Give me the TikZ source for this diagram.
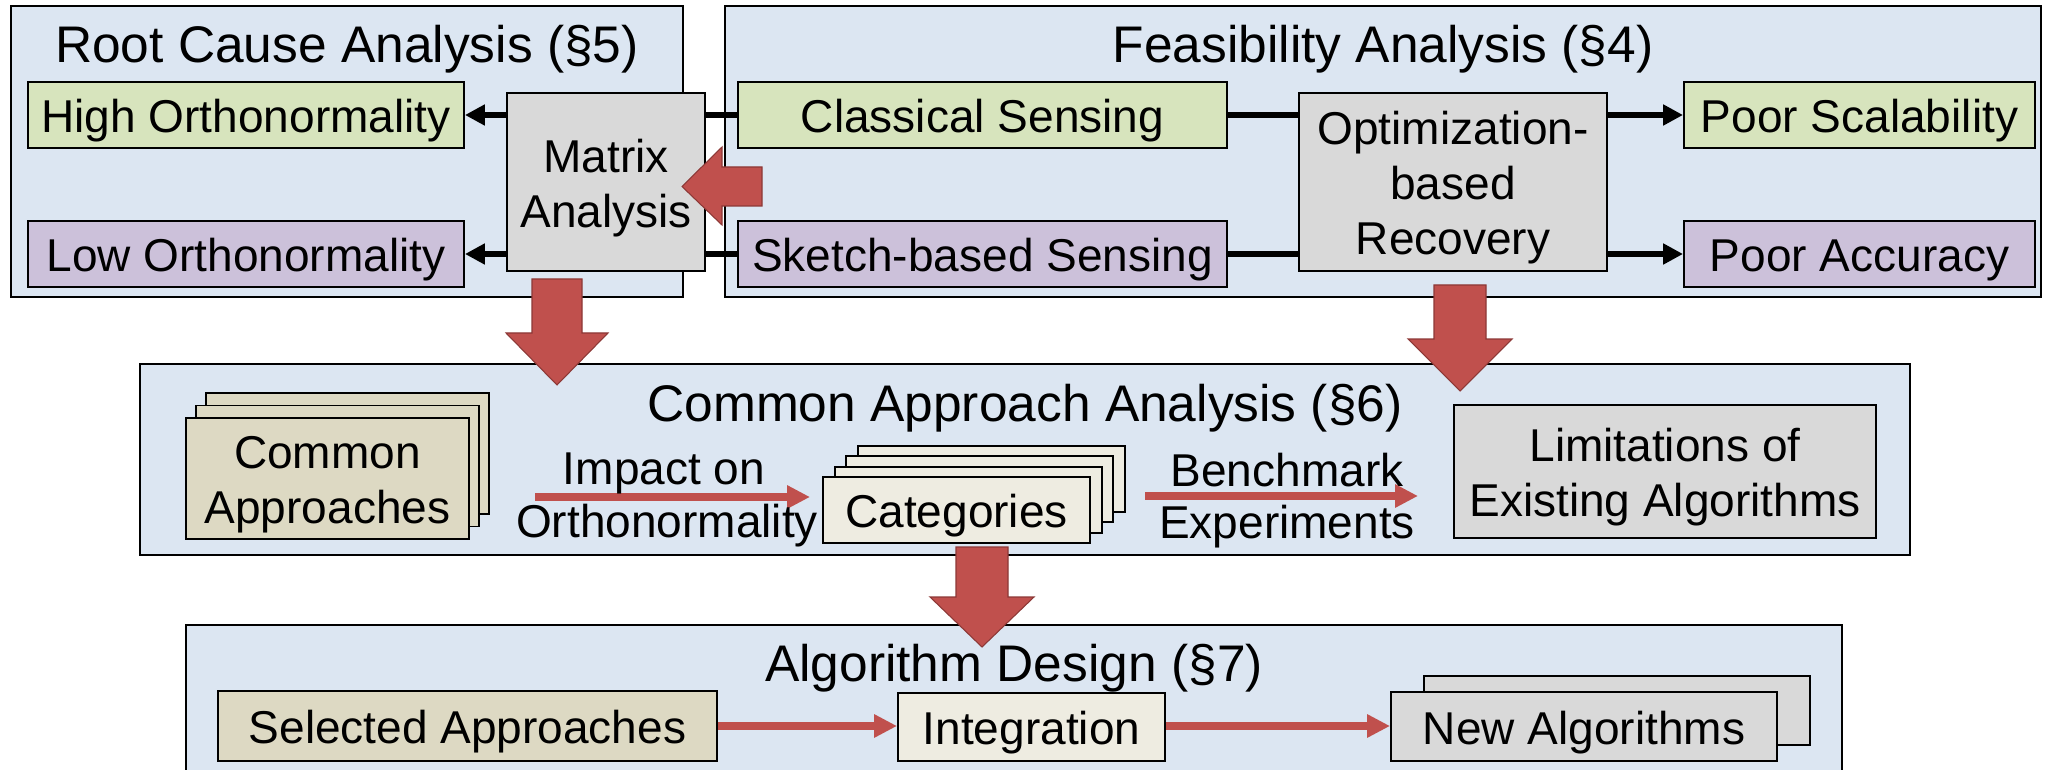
\documentclass[tikz,border=0pt]{standalone}
\usepackage{fontspec}
\setmainfont{Liberation Sans}
\usetikzlibrary{arrows.meta,calc}
\newlength\px
\setlength\px{0.02cm}
\newcommand\lblfont{\fontsize{26.2}{31.3}\selectfont}
\newcommand\ttlfont{\fontsize{29.3}{35}\selectfont}
\definecolor{secblue}{HTML}{DCE6F2}
\definecolor{grn}{HTML}{D7E4BD}
\definecolor{prp}{HTML}{CCC1DA}
\definecolor{gry}{HTML}{D9D9D9}
\definecolor{tan}{HTML}{DDD9C3}
\definecolor{crm}{HTML}{EEECE1}
\definecolor{redf}{HTML}{C0504D}
\definecolor{redd}{HTML}{8C3836}
\begin{document}
\begin{tikzpicture}[x=0.02cm,y=-0.02cm,
  sect/.style={draw=black, line width=1.3pt, fill=secblue, inner sep=0pt},
  box/.style={draw=black, line width=1.1pt, inner sep=0pt},
  txt/.style={inner sep=0pt, align=center, font=\lblfont},
  ttl/.style={anchor=base, font=\ttlfont, inner sep=0pt},
  lbl/.style={anchor=base, font=\lblfont, inner sep=0pt},
  blk/.style={line width=3.1pt, black},
  blkarr/.style={blk, -{Triangle[length=11.3pt,width=11.3pt]}},
  redarr/.style={line width=4pt, redf, -{Triangle[length=13pt,width=12.5pt]}},
  bigred/.style={fill=redf, draw=redd, line width=0.6pt, line join=miter}
]
\clip (0,0) rectangle (2046,770);
\fill[white] (0,0) rectangle (2046,770);

% ---------- sections ----------
\node[sect, minimum width=672\px, minimum height=291\px] (rc) at (347,151.5) {};
\node[sect, minimum width=1316\px, minimum height=291\px] (fe) at (1383,151.5) {};
\node[sect, minimum width=1770\px, minimum height=191\px] (ca) at (1025,459.5) {};
\node[sect, minimum width=1656\px, minimum height=200\px] (ad) at (1014,725) {};

\node[ttl] (rct) at (347,63) {Root Cause Analysis (§5)};
\node[ttl] (fet) at (1383,63) {Feasibility Analysis (§4)};
\node[ttl] (cat) at (1025,421) {Common Approach Analysis (§6)};
\node[ttl] (adt) at (1014,681) {Algorithm Design (§7)};

% ---------- top row ----------
\node[box, fill=grn, minimum width=436\px, minimum height=66\px] (high) at (246,115) {};
\node[box, fill=prp, minimum width=436\px, minimum height=66\px] (low) at (246,254) {};
\node[box, fill=gry, minimum width=198\px, minimum height=178\px] (mat) at (606,182) {};
\node[box, fill=grn, minimum width=489\px, minimum height=66\px] (cls) at (982.5,115) {};
\node[box, fill=prp, minimum width=489\px, minimum height=66\px] (skt) at (982.5,254) {};
\node[box, fill=gry, minimum width=308\px, minimum height=178\px] (opt) at (1453,182) {};
\node[box, fill=grn, minimum width=351\px, minimum height=66\px] (ps) at (1859.5,115) {};
\node[box, fill=prp, minimum width=351\px, minimum height=66\px] (pa) at (1859.5,254) {};

\node[txt] (hight) at ($(high)+(0,6)$) {High Orthonormality};
\node[txt] (lowt) at ($(low)+(0,6)$) {Low Orthonormality};
\node[txt] (matt) at ($(mat)+(0,6)$) {Matrix\\Analysis};
\node[txt] (clst) at ($(cls)+(0,6)$) {Classical Sensing};
\node[txt] (sktt) at ($(skt)+(0,6)$) {Sketch-based Sensing};
\node[txt] (optt) at ($(opt)+(0,6)$) {Optimization-\\based\\Recovery};
\node[txt] (pst) at ($(ps)+(0,6)$) {Poor Scalability};
\node[txt] (pat) at ($(pa)+(0,6)$) {Poor Accuracy};

\draw[blkarr] (mat.west |- high) -- (high.east);
\draw[blkarr] (mat.west |- low) -- (low.east);
\draw[blk] (mat.east |- cls) -- (cls.west);
\draw[blk] (mat.east |- skt) -- (skt.west);
\draw[blk] (cls.east) -- (opt.west |- cls);
\draw[blk] (skt.east) -- (opt.west |- skt);
\draw[blkarr] (opt.east |- ps) -- (ps.west);
\draw[blkarr] (opt.east |- pa) -- (pa.west);

% ---------- middle row ----------
\foreach \i in {2,1}{
  \node[box, fill=tan, minimum width=283\px, minimum height=121\px] (capb\i) at ({327.5+10*\i},{478.5-12.5*\i}) {};
}
\node[box, fill=tan, minimum width=283\px, minimum height=121\px] (cap) at (327.5,478.5) {};
\node[txt] (capt) at ($(cap)+(0,6)$) {Common\\Approaches};

\foreach \i in {3,2,1}{
  \node[box, fill=crm, minimum width=267\px, minimum height=66\px] (cgb\i) at ({956.5+11.7*\i},{510-10.3*\i}) {};
}
\node[box, fill=crm, minimum width=267\px, minimum height=66\px] (cg) at (956.5,510) {};
\node[txt] (cgt) at ($(cg)+(0,6)$) {Categories};

\node[box, fill=gry, minimum width=422\px, minimum height=133\px] (lim) at (1665,471.5) {};
\node[txt] (limt) at ($(lim)+(0,6)$) {Limitations of\\Existing Algorithms};

\coordinate (i1) at (535,497);
\coordinate (i2) at (810,497);
\coordinate (b1) at (1145,496);
\coordinate (b2) at (1418,496);
\draw[redarr] (i1) -- (i2);
\draw[redarr] (b1) -- (b2);
\node[lbl] (imp1) at (664,484) {Impact on};
\node[lbl] (imp2) at (667,537) {Orthonormality};
\node[lbl] (bm1) at (1287,486) {Benchmark};
\node[lbl] (bm2) at (1287,538) {Experiments};

% ---------- bottom row ----------
\node[box, fill=tan, minimum width=499\px, minimum height=70\px] (sel) at (467.5,726) {};
\node[box, fill=crm, minimum width=267\px, minimum height=68\px] (intg) at (1031.5,727) {};
\node[box, fill=gry, minimum width=386\px, minimum height=69\px] (newb) at (1617,710.5) {};
\node[box, fill=gry, minimum width=386\px, minimum height=69\px] (new) at (1584,726.5) {};
\node[txt] (selt) at ($(sel)+(0,6)$) {Selected Approaches};
\node[txt] (intgt) at ($(intg)+(0,6)$) {Integration};
\node[txt] (newt) at ($(new)+(0,6)$) {New Algorithms};

\draw[redarr] (sel.east) -- (intg.west |- sel.east);
\draw[redarr] (intg.east |- sel.east) -- (new.west |- sel.east);

% ---------- big red arrows ----------
\draw[bigred] (762,167) -- (762,206) -- (722,206) -- (722,225) -- (682,186.5) -- (722,147) -- (722,167) -- cycle;
\draw[bigred] (532,279) -- (582,279) -- (582,333) -- (608,333) -- (557,385) -- (506,333) -- (532,333) -- cycle;
\draw[bigred] (1434,285) -- (1486,285) -- (1486,339) -- (1512,339) -- (1460,391) -- (1408,339) -- (1434,339) -- cycle;
\draw[bigred] (956,547) -- (1008,547) -- (1008,597) -- (1034,597) -- (982,647) -- (930,597) -- (956,597) -- cycle;
\end{tikzpicture}
\end{document}
